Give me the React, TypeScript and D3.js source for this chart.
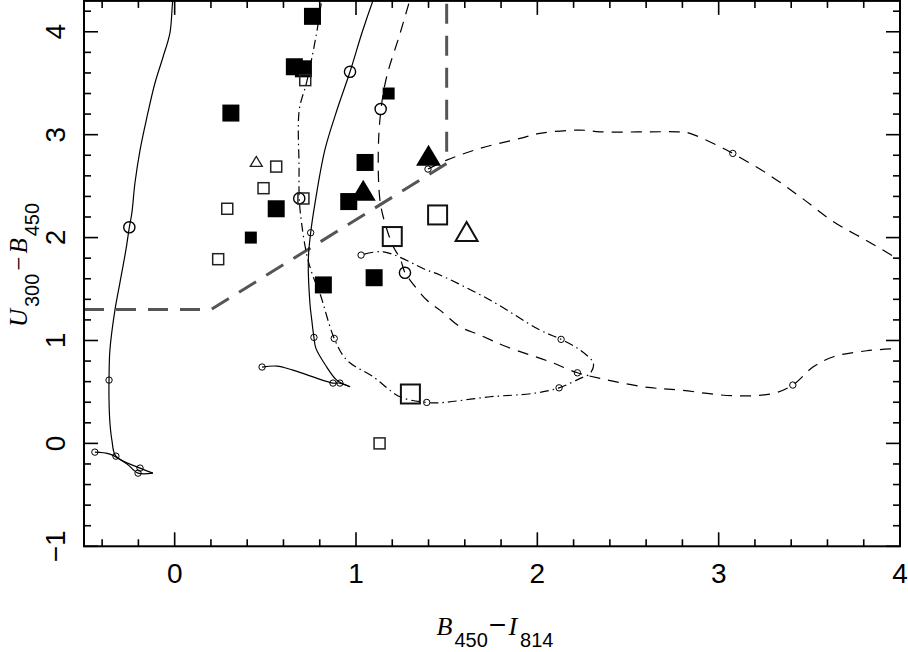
import React from 'react';
import * as d3 from 'd3';

type P = [number, number];

// ---- axis ticks ----
const xMajorTicks = [0, 1, 2, 3, 4];
const yMajorTicks = [-1, 0, 1, 2, 3, 4];
const xTickLabels = ['0', '1', '2', '3', '4'];
const yTickLabels = ['\u22121', '0', '1', '2', '3', '4'];

// ---- model tracks (x = B450-I814, y = U300-B450) ----
const solidTrackA: P[] = [
  [0.005, 4.45], [-0.01, 4.31], [-0.026, 3.99], [-0.065, 3.75], [-0.109, 3.5], [-0.153, 3.17],
  [-0.191, 2.85], [-0.219, 2.53], [-0.236, 2.24], [-0.25, 2.1], [-0.269, 1.88], [-0.302, 1.56],
  [-0.329, 1.3], [-0.357, 0.91], [-0.362, 0.615], [-0.362, 0.42], [-0.357, 0.2], [-0.346, 0.03],
  [-0.324, -0.124], [-0.191, -0.24], [-0.12, -0.289],
];
const solidTrackAReturn: P[] = [
  [-0.12, -0.289], [-0.202, -0.289], [-0.263, -0.2], [-0.357, -0.104], [-0.44, -0.085],
];
const solidTrackB: P[] = [
  [1.125, 4.45], [1.095, 4.31], [1.033, 3.99], [0.967, 3.611], [0.895, 3.24], [0.828, 2.85],
  [0.774, 2.335], [0.75, 2.047], [0.737, 1.78], [0.746, 1.36], [0.756, 1.2], [0.768, 1.03],
  [0.779, 0.923], [0.838, 0.744], [0.894, 0.615], [0.967, 0.55],
];
const solidTrackBReturn: P[] = [
  [0.967, 0.55], [0.911, 0.586], [0.873, 0.586], [0.652, 0.712], [0.564, 0.751], [0.482, 0.742],
];
const dashDotTrack: P[] = [
  [0.83, 4.45], [0.812, 4.31], [0.783, 3.99], [0.728, 3.51], [0.687, 3.24], [0.686, 2.685],
  [0.687, 2.381], [0.7, 2.138], [0.731, 1.813], [0.764, 1.619], [0.801, 1.458], [0.88, 1.02],
  [0.949, 0.81], [1.095, 0.647], [1.243, 0.453], [1.39, 0.398], [1.463, 0.395], [1.739, 0.453],
  [1.978, 0.486], [2.12, 0.54], [2.236, 0.632], [2.291, 0.68], [2.309, 0.777], [2.236, 0.907],
  [2.131, 1.011], [2.015, 1.101], [1.739, 1.393], [1.463, 1.636], [1.39, 1.684], [1.151, 1.862],
  [1.028, 1.83],
];
const dashedTrackLower: P[] = [
  [1.32, 4.45], [1.297, 4.31], [1.243, 3.984], [1.169, 3.563], [1.138, 3.249], [1.123, 2.85],
  [1.132, 2.365], [1.16, 2.138], [1.206, 1.911], [1.243, 1.798], [1.27, 1.658], [1.298, 1.587],
  [1.39, 1.393], [1.463, 1.295], [1.574, 1.133], [1.684, 1.052], [1.831, 0.939], [2.07, 0.793],
  [2.221, 0.686], [2.346, 0.632], [2.585, 0.55], [2.787, 0.518], [3.081, 0.463], [3.302, 0.486],
  [3.409, 0.567], [3.522, 0.744], [3.633, 0.842], [3.817, 0.9], [4.0, 0.923], [4.1, 0.93],
];
const dashedTrackUpper: P[] = [
  [1.397, 2.666], [1.5, 2.753], [1.684, 2.867], [1.905, 2.964], [2.015, 3.013], [2.236, 3.045],
  [2.346, 3.028], [2.769, 3.028], [2.824, 3.022], [2.99, 2.899], [3.078, 2.818], [3.265, 2.624],
  [3.449, 2.397], [3.633, 2.154], [3.817, 1.97], [4.0, 1.78], [4.1, 1.67],
];
const selectionBoundary: P[] = [[-0.5, 1.3], [0.2, 1.3], [1.5, 2.72], [1.5, 4.4]];

// ---- age markers on the tracks ----
const trackCirclesLarge: P[] = [[-0.25, 2.1], [0.967, 3.611], [0.687, 2.381], [1.136, 3.249], [1.27, 1.658]];
const trackCirclesSmall: P[] = [
  [-0.362, 0.615], [-0.324, -0.124], [-0.44, -0.085], [-0.191, -0.24], [-0.202, -0.289],
  [0.75, 2.047], [0.768, 1.03], [0.482, 0.742], [0.873, 0.586], [0.911, 0.586],
  [0.88, 1.02], [1.39, 0.398], [2.12, 0.54], [2.131, 1.011], [1.028, 1.83],
  [2.221, 0.686], [3.409, 0.567], [1.397, 2.666], [3.078, 2.818],
];

// ---- observed objects ----
const filledSquaresLarge: P[] = [
  [0.76, 4.15], [0.66, 3.66], [0.71, 3.64], [0.31, 3.21], [0.56, 2.28], [1.05, 2.73],
  [0.96, 2.35], [0.82, 1.54], [1.1, 1.61],
];
const filledSquaresSmall: P[] = [[0.42, 2.0], [1.18, 3.4]];
const filledTriangles: P[] = [[1.04, 2.46], [1.4, 2.8]];
const openSquaresSmall: P[] = [
  [0.72, 3.53], [0.56, 2.69], [0.49, 2.48], [0.29, 2.28], [0.71, 2.38], [0.24, 1.79], [1.13, 0.0],
];
const openSquaresLarge: P[] = [[1.2, 2.01], [1.45, 2.22], [1.3, 0.48]];
const openTrianglesSmall: P[] = [[0.45, 2.74]];
const openTrianglesLarge: P[] = [[1.61, 2.06]];

const W = 908;
const H = 652;
const L = 84;
const R = 900;
const T = 0.9;
const B = 546.3;

const x = d3.scaleLinear().domain([-0.5, 4]).range([L, R]);
const y = d3.scaleLinear().domain([-1, 4.3]).range([B, T]);

const line = d3
  .line<P>()
  .x((d) => x(d[0]))
  .y((d) => y(d[1]))
  .curve(d3.curveCatmullRom.alpha(0.5));
const straight = d3
  .line<P>()
  .x((d) => x(d[0]))
  .y((d) => y(d[1]));

const round = (v: number) => Math.round(v * 1000) / 1000;
const xMinor = d3.range(-0.4, 4.0001, 0.2).map(round).filter((v) => Math.abs(v - Math.round(v)) > 1e-6);
const yMinor = d3.range(-0.8, 4.3, 0.2).map(round).filter((v) => Math.abs(v - Math.round(v)) > 1e-6);

const tri = (cx: number, cy: number, w: number, h: number) =>
  `M${cx},${cy - h / 2}L${cx + w / 2},${cy + h / 2}L${cx - w / 2},${cy + h / 2}Z`;

const SANS = 'Liberation Sans, Arial, sans-serif';
const SERIF = 'Liberation Serif, Times New Roman, serif';

export default function App() {
  const MAJ = 14;
  const MIN = 7;
  return (
    <svg
      width={W}
      height={H}
      viewBox={`0 0 ${W} ${H}`}
      style={{ position: 'absolute', left: 0, top: 0, background: '#fff' }}
    >
      <defs>
        <clipPath id="plot">
          <rect x={L} y={T} width={R - L} height={B - T} />
        </clipPath>
      </defs>
      <rect x={0} y={0} width={W} height={H} fill="#fff" />

      <g clipPath="url(#plot)" fill="none">
        <path d={straight(selectionBoundary) || ''} stroke="#555" strokeWidth={3} strokeDasharray="20,12" />
        <path d={line(solidTrackA) || ''} stroke="#000" strokeWidth={1.2} />
        <path d={line(solidTrackAReturn) || ''} stroke="#000" strokeWidth={1.2} />
        <path d={line(solidTrackB) || ''} stroke="#000" strokeWidth={1.2} />
        <path d={line(solidTrackBReturn) || ''} stroke="#000" strokeWidth={1.2} />
        <path d={line(dashDotTrack) || ''} stroke="#000" strokeWidth={1.2} strokeDasharray="9,4,1.5,4" />
        <path d={line(dashedTrackLower) || ''} stroke="#000" strokeWidth={1.2} strokeDasharray="11,8" />
        <path d={line(dashedTrackUpper) || ''} stroke="#000" strokeWidth={1.2} strokeDasharray="11,8" />

        {trackCirclesLarge.map((d, i) => (
          <circle key={'cl' + i} cx={x(d[0])} cy={y(d[1])} r={5.6} stroke="#000" strokeWidth={1.4} />
        ))}
        {trackCirclesSmall.map((d, i) => (
          <circle key={'cs' + i} cx={x(d[0])} cy={y(d[1])} r={3.2} stroke="#000" strokeWidth={1} />
        ))}

        {filledSquaresLarge.map((d, i) => (
          <rect key={'fl' + i} x={x(d[0]) - 8.5} y={y(d[1]) - 8.5} width={17} height={17} fill="#000" />
        ))}
        {filledSquaresSmall.map((d, i) => (
          <rect key={'fs' + i} x={x(d[0]) - 6} y={y(d[1]) - 6} width={12} height={12} fill="#000" />
        ))}
        {filledTriangles.map((d, i) => (
          <path key={'ft' + i} d={tri(x(d[0]), y(d[1]), 25, 21)} fill="#000" />
        ))}
        {openSquaresSmall.map((d, i) => (
          <rect key={'os' + i} x={x(d[0]) - 5.5} y={y(d[1]) - 5.5} width={11} height={11} stroke="#222" strokeWidth={1.5} />
        ))}
        {openSquaresLarge.map((d, i) => (
          <rect key={'ol' + i} x={x(d[0]) - 9.5} y={y(d[1]) - 9.5} width={19} height={19} stroke="#111" strokeWidth={2} />
        ))}
        {openTrianglesSmall.map((d, i) => (
          <path key={'ots' + i} d={tri(x(d[0]), y(d[1]), 12, 10)} stroke="#222" strokeWidth={1.3} />
        ))}
        {openTrianglesLarge.map((d, i) => (
          <path key={'otl' + i} d={tri(x(d[0]), y(d[1]), 22, 19)} stroke="#111" strokeWidth={2} />
        ))}
      </g>

      {/* frame */}
      <rect x={L} y={T} width={R - L} height={B - T} fill="none" stroke="#000" strokeWidth={2} />

      {/* ticks */}
      <g stroke="#000" strokeWidth={1.6}>
        {xMajorTicks.map((v) => (
          <g key={'xM' + v}>
            <line x1={x(v)} x2={x(v)} y1={B} y2={B - MAJ} />
            <line x1={x(v)} x2={x(v)} y1={T} y2={T + MAJ} />
          </g>
        ))}
        {xMinor.map((v) => (
          <g key={'xm' + v}>
            <line x1={x(v)} x2={x(v)} y1={B} y2={B - MIN} />
            <line x1={x(v)} x2={x(v)} y1={T} y2={T + MIN} />
          </g>
        ))}
        {yMajorTicks.map((v) => (
          <g key={'yM' + v}>
            <line x1={L} x2={L + MAJ} y1={y(v)} y2={y(v)} />
            <line x1={R} x2={R - MAJ} y1={y(v)} y2={y(v)} />
          </g>
        ))}
        {yMinor.map((v) => (
          <g key={'ym' + v}>
            <line x1={L} x2={L + MIN} y1={y(v)} y2={y(v)} />
            <line x1={R} x2={R - MIN} y1={y(v)} y2={y(v)} />
          </g>
        ))}
      </g>

      {/* tick labels */}
      <g fontFamily={SANS} fontSize={28} fill="#000">
        {xMajorTicks.map((v, i) => (
          <text key={'xl' + v} x={x(v)} y={583} textAnchor="middle">
            {xTickLabels[i]}
          </text>
        ))}
        {yMajorTicks.map((v, i) => (
          <text key={'yl' + v} transform={`translate(65,${y(v)}) rotate(-90)`} textAnchor="middle">
            {yTickLabels[i]}
          </text>
        ))}
      </g>

      {/* axis titles */}
      <text x={495} y={635} textAnchor="middle" fill="#000">
        <tspan fontFamily={SERIF} fontStyle="italic" fontSize={26}>B</tspan>
        <tspan fontFamily={SANS} fontSize={20} dx={2} dy={12}>450</tspan>
        <tspan fontFamily={SANS} fontSize={30} dx={1} dy={-12}>{'\u2212'}</tspan>
        <tspan fontFamily={SERIF} fontStyle="italic" fontSize={26} dx={2}>I</tspan>
        <tspan fontFamily={SANS} fontSize={20} dx={3} dy={12}>814</tspan>
      </text>
      <text transform="translate(27,265) rotate(-90)" textAnchor="middle" fill="#000">
        <tspan fontFamily={SERIF} fontStyle="italic" fontSize={25}>U</tspan>
        <tspan fontFamily={SANS} fontSize={20} dx={2} dy={12}>300</tspan>
        <tspan fontFamily={SERIF} fontSize={25} dx={3} dy={-12}>{'\u2212'}</tspan>
        <tspan fontFamily={SERIF} fontStyle="italic" fontSize={25} dx={3}>B</tspan>
        <tspan fontFamily={SANS} fontSize={20} dx={2} dy={12}>450</tspan>
      </text>
    </svg>
  );
}
